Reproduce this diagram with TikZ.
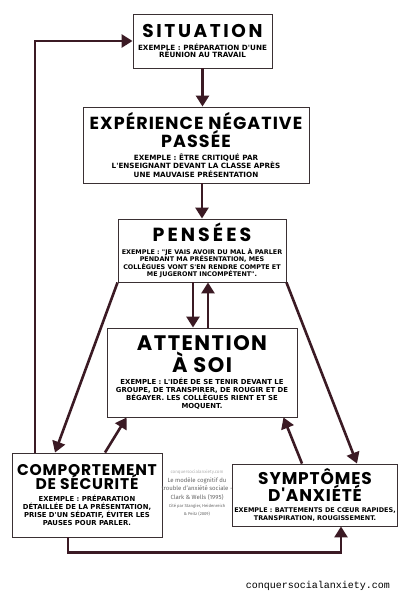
\documentclass[tikz,border=0pt]{standalone}
\usepackage{fontspec}
\setmainfont{Fira Sans}
\newfontfamily\titlefont{Poppins}
\newfontfamily\exfont{DejaVu Sans}
\newfontfamily\webfont{Liberation Mono}
\usetikzlibrary{arrows.meta, positioning}

\definecolor{maroon}{HTML}{3B1A24}
\definecolor{boxline}{HTML}{3A3033}

% title line: size, letter spacing
\newcommand{\ttl}[2]{\titlefont\bfseries\fontsize{#1}{#1}\selectfont\addfontfeature{LetterSpace=#2}}

\begin{document}
\begin{tikzpicture}[
    x=1pt, y=-1pt,
    box/.style={rectangle, draw=boxline, line width=0.9pt, fill=white, align=center, inner sep=2pt},
    exsize/.style 2 args={font=\exfont\bfseries\fontsize{#1}{#2}\selectfont},
    line/.style={-{Triangle[length=11pt, width=13pt]}, line width=2.6pt, draw=maroon},
    credit/.style={align=center, inner sep=0pt, text=black!60, font=\fontsize{6}{8.3}\selectfont}
]
\useasboundingbox[fill=white] (0,0) rectangle (400,600);

% Boxes of the model
\node[box, exsize={7.2}{7.8}, minimum width=139pt, minimum height=54pt] (sit) at (202.5,41)
    {\ttl{18.5}{14}SITUATION\\[5pt]EXEMPLE : PRÉPARATION D'UNE\\RÉUNION AU TRAVAIL};
\node[box, exsize={7.2}{8.6}, minimum width=226pt, minimum height=76pt] (exp) at (196,145)
    {\ttl{17.5}{6}EXPÉRIENCE NÉGATIVE\\\ttl{17.5}{6}PASSÉE\\[4pt]EXEMPLE : ÊTRE CRITIQUÉ PAR\\L'ENSEIGNANT DEVANT LA CLASSE APRÈS\\UNE MAUVAISE PRÉSENTATION};
\node[box, exsize={6.4}{7.6}, minimum width=168pt, minimum height=63pt] (pen) at (202,250.5)
    {\ttl{19}{16}PENSÉES\\[5pt]EXEMPLE : "JE VAIS AVOIR DU MAL À PARLER\\PENDANT MA PRÉSENTATION, MES\\COLLÈGUES VONT S'EN RENDRE COMPTE ET\\ME JUGERONT INCOMPÉTENT".};
\node[box, exsize={6.9}{7.9}, minimum width=190pt, minimum height=89pt] (att) at (202,372.5)
    {\ttl{21}{7}ATTENTION\\\ttl{21}{7}À SOI\\[5pt]EXEMPLE : L'IDÉE DE SE TENIR DEVANT LE\\GROUPE, DE TRANSPIRER, DE ROUGIR ET DE\\BÉGAYER. LES COLLÈGUES RIENT ET SE\\MOQUENT.};
\node[box, exsize={6.85}{8.3}, minimum width=150pt, minimum height=84pt] (com) at (87,495)
    {\ttl{15.5}{5}COMPORTEMENT\\[-1.5pt]\ttl{15.5}{5}DE SÉCURITÉ\\[3pt]EXEMPLE : PRÉPARATION\\DÉTAILLÉE DE LA PRÉSENTATION,\\PRISE D'UN SÉDATIF, ÉVITER LES\\PAUSES POUR PARLER.};
\node[box, exsize={6.45}{7.9}, minimum width=164pt, minimum height=62pt] (sym) at (315,495)
    {\ttl{17}{5}SYMPTÔMES\\\ttl{17}{5}D'ANXIÉTÉ\\[3pt]EXEMPLE : BATTEMENTS DE CŒUR RAPIDES,\\TRANSPIRATION, ROUGISSEMENT.};

% Source in the middle
\node[credit] (src) at (197,493)
    {\fontsize{4.5}{6}\selectfont\color{black!30}conquersocialanxiety.com\\[1pt]
     Le modèle cognitif du\\
     trouble d'anxiété sociale -\\
     Clark \& Wells (1995)\\
     \fontsize{4.2}{6}\selectfont Cité par Stangier, Heidenreich\\
     \fontsize{4.2}{6}\selectfont \& Peitz (2009)};
\node[inner sep=0pt] (web) at (318,586) {\webfont\fontsize{10}{10}\selectfont conquersocialanxiety.com};

% Arrows
\draw[line] (sit.south) -- (sit.south |- exp.north);
\draw[line] (exp.south -| pen.north) -- (pen.north);
\draw[line] ([xshift=-9pt]pen.south) -- ([xshift=-9pt]pen.south |- att.north);
\draw[line] ([xshift=6pt]att.north) -- ([xshift=6pt]att.north |- pen.south);
\draw[line] (pen.south west) -- ([xshift=-32pt]com.north);
\draw[line] ([xshift=18pt]com.north) -- ([xshift=20pt]att.south west);
\draw[line] (pen.south east) -- ([xshift=42pt]sym.north);
\draw[line] ([xshift=-13pt]sym.north) -- ([xshift=-14pt]att.south east);
\draw[line] ([xshift=-52pt]com.north) |- (sit.west);
\draw[line] ([xshift=-19pt]com.south) -- ++(0,15) -| ([xshift=26pt]sym.south);

\end{tikzpicture}
\end{document}
